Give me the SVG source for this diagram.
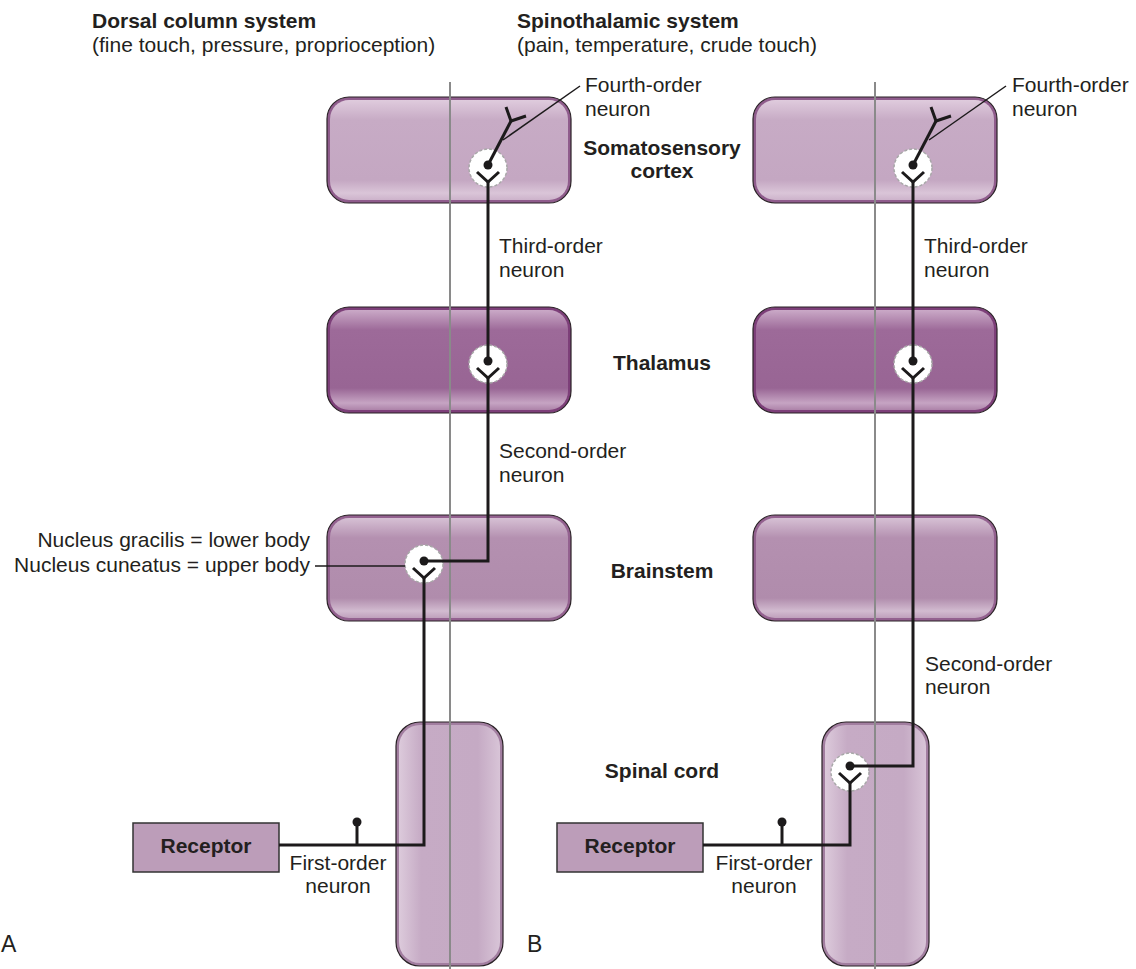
<svg xmlns="http://www.w3.org/2000/svg" width="1136" height="969" viewBox="0 0 1136 969">
<style>
text{font-family:"Liberation Sans",Arial,sans-serif;font-size:21px;fill:#231f20}
.b{font-weight:bold}
.m{text-anchor:middle}
.e{text-anchor:end}
.mid{stroke:#8a8a8a;stroke-width:2;fill:none}
.ax{stroke:#1c1a1b;stroke-width:3;fill:none;stroke-linejoin:miter}
.thin{stroke:#1c1a1b;stroke-width:1.5;fill:none}
.cell{fill:#fff;stroke:#a8a8a8;stroke-width:1.5;stroke-dasharray:3 2}
.edge{stroke:#2a2226;stroke-width:1.2}
</style>
<defs>
<linearGradient id="gCortex" x1="0" y1="0" x2="0" y2="1">
<stop offset="0" stop-color="#dfcbdd"/><stop offset="0.2" stop-color="#c7abc5"/><stop offset="0.8" stop-color="#c4a7c2"/><stop offset="0.93" stop-color="#dac5d8"/><stop offset="1" stop-color="#cdb3cb"/>
</linearGradient>
<linearGradient id="gThal" x1="0" y1="0" x2="0" y2="1">
<stop offset="0" stop-color="#caa9c7"/><stop offset="0.2" stop-color="#9d6a99"/><stop offset="0.78" stop-color="#986594"/><stop offset="0.93" stop-color="#c6a4c3"/><stop offset="1" stop-color="#ad83a9"/>
</linearGradient>
<linearGradient id="gBrain" x1="0" y1="0" x2="0" y2="1">
<stop offset="0" stop-color="#d6c0d4"/><stop offset="0.2" stop-color="#b490b0"/><stop offset="0.8" stop-color="#b08cac"/><stop offset="0.93" stop-color="#d2bbd0"/><stop offset="1" stop-color="#bfa0bc"/>
</linearGradient>
<linearGradient id="gCord" x1="0" y1="0" x2="1" y2="0">
<stop offset="0" stop-color="#dccadb"/><stop offset="0.22" stop-color="#c6abc5"/><stop offset="0.78" stop-color="#c5aac4"/><stop offset="1" stop-color="#d8c4d7"/>
</linearGradient>
</defs>
<rect width="1136" height="969" fill="#fff"/>

<!-- headers -->
<g id="header-a">
<text class="b" x="92" y="28">Dorsal column system</text>
<text x="92" y="52">(fine touch, pressure, proprioception)</text>
</g>
<g id="header-b">
<text class="b" x="517" y="28">Spinothalamic system</text>
<text x="517" y="52">(pain, temperature, crude touch)</text>
</g>

<!-- Panel A boxes -->
<g id="a-cortex">
<rect x="327" y="97" width="244" height="106" rx="22" fill="#8f5c8c" class="edge"/>
<rect x="330" y="100" width="238" height="100" rx="19" fill="url(#gCortex)"/>
</g>
<g id="a-thalamus">
<rect x="327" y="307" width="244" height="106" rx="22" fill="#7d3f79" class="edge"/>
<rect x="330" y="310" width="238" height="100" rx="19" fill="url(#gThal)"/>
</g>
<g id="a-brainstem">
<rect x="327" y="515" width="244" height="106" rx="22" fill="#93618f" class="edge"/>
<rect x="330" y="518" width="238" height="100" rx="19" fill="url(#gBrain)"/>
</g>
<g id="a-cord">
<rect x="396" y="722" width="107" height="244" rx="24" fill="#a27ea0" class="edge"/>
<rect x="399" y="725" width="101" height="238" rx="21" fill="url(#gCord)"/>
</g>
<g id="a-receptor">
<rect x="133" y="823" width="146" height="49" fill="#bc9db9" stroke="#333" stroke-width="1.5"/>
<text class="b m" x="206" y="853">Receptor</text>
</g>

<!-- Panel B boxes -->
<g id="b-cortex">
<rect x="753" y="97" width="244" height="106" rx="22" fill="#8f5c8c" class="edge"/>
<rect x="756" y="100" width="238" height="100" rx="19" fill="url(#gCortex)"/>
</g>
<g id="b-thalamus">
<rect x="753" y="307" width="244" height="106" rx="22" fill="#7d3f79" class="edge"/>
<rect x="756" y="310" width="238" height="100" rx="19" fill="url(#gThal)"/>
</g>
<g id="b-brainstem">
<rect x="753" y="515" width="244" height="106" rx="22" fill="#93618f" class="edge"/>
<rect x="756" y="518" width="238" height="100" rx="19" fill="url(#gBrain)"/>
</g>
<g id="b-cord">
<rect x="822" y="722" width="107" height="244" rx="24" fill="#a27ea0" class="edge"/>
<rect x="825" y="725" width="101" height="238" rx="21" fill="url(#gCord)"/>
</g>
<g id="b-receptor">
<rect x="557" y="823" width="146" height="49" fill="#bc9db9" stroke="#333" stroke-width="1.5"/>
<text class="b m" x="630" y="853">Receptor</text>
</g>

<!-- midlines -->
<g id="midlines">
<line class="mid" x1="450" y1="82" x2="450" y2="969"/>
<line class="mid" x1="875" y1="82" x2="875" y2="969"/>
</g>

<!-- connectors / neurons -->
<g id="connectors">
<circle class="cell" cx="488" cy="168" r="19"/>
<circle class="cell" cx="488" cy="364" r="19"/>
<circle class="cell" cx="424" cy="564" r="19"/>
<circle class="cell" cx="913" cy="168" r="19"/>
<circle class="cell" cx="913" cy="364" r="19"/>
<circle class="cell" cx="850" cy="772" r="19"/>

<polyline class="ax" points="488,165 511,121"/>
<polyline class="ax" points="506,107 511,121 526,116"/>
<circle cx="488" cy="165" r="4.5" fill="#1c1a1b"/>
<polyline class="ax" points="477,172 488,182 499,172"/>
<line class="ax" x1="488" y1="182" x2="488" y2="361"/>
<circle cx="488" cy="361" r="4.5" fill="#1c1a1b"/>
<polyline class="ax" points="477,368 488,378 499,368"/>
<polyline class="ax" points="488,378 488,561 424,561"/>
<circle cx="424" cy="561" r="4.5" fill="#1c1a1b"/>
<polyline class="ax" points="413,568 424,578 435,568"/>
<polyline class="ax" points="424,578 424,845 279,845"/>
<line class="ax" x1="357" y1="845" x2="357" y2="822"/>
<circle cx="357" cy="822" r="4.5" fill="#1c1a1b"/>

<polyline class="ax" points="913,165 936,121"/>
<polyline class="ax" points="931,107 936,121 951,116"/>
<circle cx="913" cy="165" r="4.5" fill="#1c1a1b"/>
<polyline class="ax" points="902,172 913,182 924,172"/>
<line class="ax" x1="913" y1="182" x2="913" y2="361"/>
<circle cx="913" cy="361" r="4.5" fill="#1c1a1b"/>
<polyline class="ax" points="902,368 913,378 924,368"/>
<polyline class="ax" points="913,378 913,766 850,766"/>
<circle cx="850" cy="766" r="4.5" fill="#1c1a1b"/>
<polyline class="ax" points="839,773 850,783 861,773"/>
<polyline class="ax" points="850,783 850,845 703,845"/>
<line class="ax" x1="782" y1="845" x2="782" y2="822"/>
<circle cx="782" cy="822" r="4.5" fill="#1c1a1b"/>

<line class="thin" x1="580" y1="86" x2="503" y2="140"/>
<line class="thin" x1="1006" y1="86" x2="929" y2="140"/>
<line class="thin" x1="315" y1="566" x2="405" y2="566"/>
</g>

<!-- labels -->
<g id="labels">
<text x="585" y="92">Fourth-order</text>
<text x="585" y="116">neuron</text>
<text x="1012" y="92">Fourth-order</text>
<text x="1012" y="116">neuron</text>
<text class="b m" x="662" y="155">Somatosensory</text>
<text class="b m" x="662" y="178">cortex</text>
<text x="499" y="253">Third-order</text>
<text x="499" y="277">neuron</text>
<text x="924" y="253">Third-order</text>
<text x="924" y="277">neuron</text>
<text class="b m" x="662" y="370">Thalamus</text>
<text x="499" y="458">Second-order</text>
<text x="499" y="482">neuron</text>
<text class="e" x="310" y="547">Nucleus gracilis = lower body</text>
<text class="e" x="310" y="572">Nucleus cuneatus = upper body</text>
<text class="b m" x="662" y="578">Brainstem</text>
<text x="925" y="671">Second-order</text>
<text x="925" y="694">neuron</text>
<text class="b m" x="662" y="778">Spinal cord</text>
<text class="m" x="338" y="870">First-order</text>
<text class="m" x="338" y="893">neuron</text>
<text class="m" x="764" y="870">First-order</text>
<text class="m" x="764" y="893">neuron</text>
<text x="1" y="952" style="font-size:23px">A</text>
<text x="527" y="952" style="font-size:23px">B</text>
</g>
</svg>
